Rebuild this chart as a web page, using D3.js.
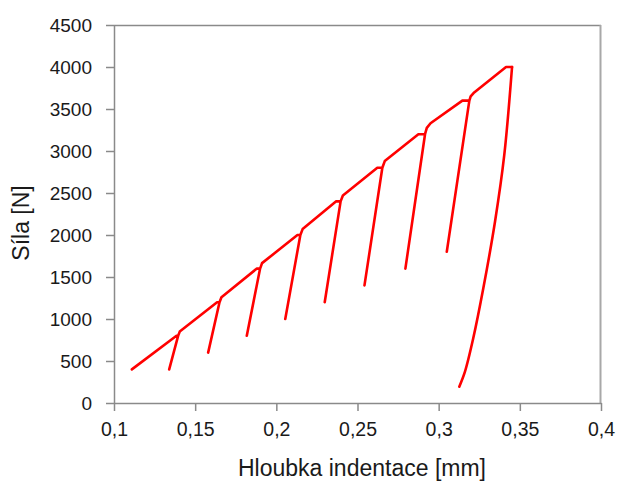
<!DOCTYPE html>
<html><head><meta charset="utf-8">
<script src="https://cdn.jsdelivr.net/npm/d3@7"></script>
<style>
html,body{margin:0;padding:0;background:#fff;}
svg{display:block;font-family:"Liberation Sans",Arial,sans-serif;}
</style></head>
<body>
<svg id="chart" width="617" height="484"></svg>
<script>
// indentation depth [mm]
const depth = [
  0.111, 0.1385, 0.1395, 0.1340, 0.1395, 0.1405,
  0.1635, 0.1650, 0.1580, 0.1650, 0.1662,
  0.1880, 0.1900, 0.1818, 0.1900, 0.1912,
  0.2130, 0.2148, 0.2055, 0.2148, 0.2162,
  0.2367, 0.2396, 0.2298, 0.2396, 0.2410,
  0.2622, 0.2653, 0.2543, 0.2653, 0.2668,
  0.2875, 0.2916, 0.2795, 0.2916, 0.2927, 0.2950,
  0.3146, 0.3189, 0.3050, 0.3189, 0.3197, 0.3215,
  0.3415, 0.3452,
  // final unloading
  0.3404, 0.3347, 0.3275, 0.3213, 0.3162, 0.3127
];
// force [N]
const force = [
  400, 800, 800, 400, 800, 850,
  1200, 1200, 600, 1200, 1260,
  1600, 1600, 800, 1600, 1665,
  2000, 2000, 1000, 2000, 2070,
  2400, 2400, 1200, 2400, 2470,
  2800, 2800, 1400, 2800, 2880,
  3200, 3200, 1600, 3200, 3275, 3330,
  3600, 3600, 1800, 3600, 3650, 3690,
  4000, 4000,
  2950, 2158, 1365, 770, 373, 194
];
const finalUnloadStart = 44; // index of the last hold point (0.3452, 4000)
const xTicks = [0.1, 0.15, 0.2, 0.25, 0.3, 0.35, 0.4];
const xTickLabels = ["0,1", "0,15", "0,2", "0,25", "0,3", "0,35", "0,4"];
const yTicks = [0, 500, 1000, 1500, 2000, 2500, 3000, 3500, 4000, 4500];
const xTitle = "Hloubka indentace [mm]";
const yTitle = "Síla [N]";

const svg = d3.select("#chart");
const L = 114, R = 601, T = 25, B = 403;
const x = d3.scaleLinear().domain([0.1, 0.4]).range([L, R]);
const y = d3.scaleLinear().domain([0, 4500]).range([B, T]);
const axisColor = "#8a8a8a";

// frame (top and right)
svg.append("line").attr("x1", L).attr("x2", R).attr("y1", T + 0.5).attr("y2", T + 0.5)
  .attr("stroke", axisColor).attr("stroke-width", 1.5);
svg.append("line").attr("x1", R - 0.5).attr("x2", R - 0.5).attr("y1", T).attr("y2", B)
  .attr("stroke", "#a8a8a8").attr("stroke-width", 2);

const xAxis = d3.axisBottom(x).tickValues(xTicks)
  .tickFormat((d, i) => xTickLabels[i]).tickSize(8).tickSizeOuter(0).tickPadding(11);
const gx = svg.append("g").attr("transform", `translate(0,${B})`).call(xAxis);
const yAxis = d3.axisLeft(y).tickValues(yTicks).tickFormat(d3.format("d"))
  .tickSize(8).tickSizeOuter(0).tickPadding(14);
const gy = svg.append("g").attr("transform", `translate(${L},0)`).call(yAxis);

[gx, gy].forEach(g => {
  g.select(".domain").attr("stroke", axisColor).attr("stroke-width", 1.5);
  g.selectAll(".tick line").attr("stroke", axisColor).attr("stroke-width", 1.5);
  g.selectAll(".tick text").attr("fill", "#1a1a1a").attr("font-size", 19)
    .attr("font-family", "'Liberation Sans', Arial, sans-serif");
});
gx.selectAll(".tick text").attr("font-size", 19.5);

const pts = depth.map((d, i) => [d, force[i]]);
const loadPts = pts.slice(0, finalUnloadStart + 1);
const unloadPts = pts.slice(finalUnloadStart);
const lineLin = d3.line().x(d => x(d[0])).y(d => y(d[1])).curve(d3.curveLinear);
const lineSmooth = d3.line().x(d => x(d[0])).y(d => y(d[1])).curve(d3.curveCatmullRom.alpha(0.5));
[[loadPts, lineLin], [unloadPts, lineSmooth]].forEach(([data, gen]) => {
  svg.append("path").datum(data).attr("d", gen)
    .attr("fill", "none").attr("stroke", "#ff0000").attr("stroke-width", 2.6)
    .attr("stroke-linejoin", "round").attr("stroke-linecap", "round");
});

svg.append("text").attr("x", 362).attr("y", 476).attr("text-anchor", "middle")
  .attr("font-size", 23).attr("fill", "#1a1a1a").text(xTitle);
svg.append("text").attr("transform", "translate(29,223) rotate(-90)")
  .attr("text-anchor", "middle").attr("font-size", 23).attr("fill", "#1a1a1a").text(yTitle);
</script>
</body></html>
